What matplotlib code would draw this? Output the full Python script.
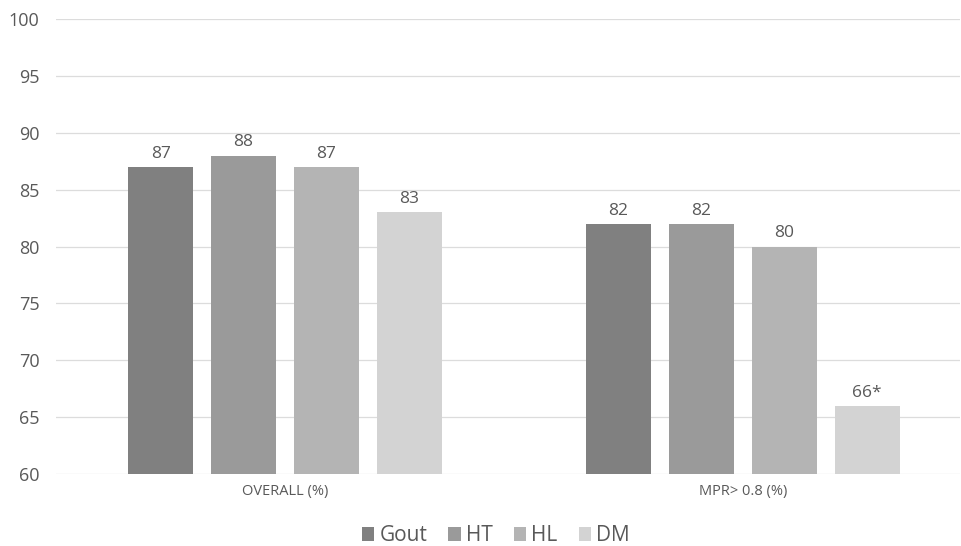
import matplotlib.pyplot as plt
import numpy as np

categories = ["OVERALL (%)", "MPR> 0.8 (%)"]
series_names = ["Gout", "HT", "HL", "DM"]
gout = [87, 82]
ht = [88, 82]
hl = [87, 80]
dm = [83, 66]
labels = {
    "Gout": ["87", "82"],
    "HT": ["88", "82"],
    "HL": ["87", "80"],
    "DM": ["83", "66*"],
}
yticks = [60, 65, 70, 75, 80, 85, 90, 95, 100]

colors = ["#808080", "#9a9a9a", "#b4b4b4", "#d3d3d3"]
text_col = "#595959"

plt.rcParams["font.family"] = ["Open Sans", "DejaVu Sans"]

fig = plt.figure(figsize=(9.61, 5.46), dpi=100)
ax = fig.add_axes([56 / 961, 72 / 546, (960 - 56) / 961, (474 - 19) / 546])

x = np.arange(len(categories))
step = 0.181
width = 0.142
values = [gout, ht, hl, dm]
for i, (name, vals) in enumerate(zip(series_names, values)):
    pos = x + (i - 1.5) * step
    ax.bar(pos, [v - 60 for v in vals], width, bottom=60, color=colors[i],
           label=name, zorder=3)
    for p, v, t in zip(pos, vals, labels[name]):
        ax.text(p, v + 0.45, t, ha="center", va="bottom", fontsize=12.5,
                color=text_col)

ax.set_ylim(60, 100)
ax.set_xlim(-0.5, 1.474)
ax.set_yticks(yticks)
ax.set_xticks(x)
ax.set_xticklabels(categories, fontsize=10.5, color=text_col)
ax.tick_params(axis="y", labelsize=13, colors=text_col, length=0, pad=12)
ax.tick_params(axis="x", length=0, pad=7)
ax.grid(axis="y", color="#dcdcdc", linewidth=0.9, zorder=0)
for s in ax.spines.values():
    s.set_visible(False)

fig.legend(loc="lower center", bbox_to_anchor=(0.516, -0.035), ncol=4,
           frameon=False, fontsize=15, handlelength=0.6, handleheight=0.6,
           handletextpad=0.25, columnspacing=1.0, labelcolor=text_col)

fig.savefig("out.png", dpi=100)
